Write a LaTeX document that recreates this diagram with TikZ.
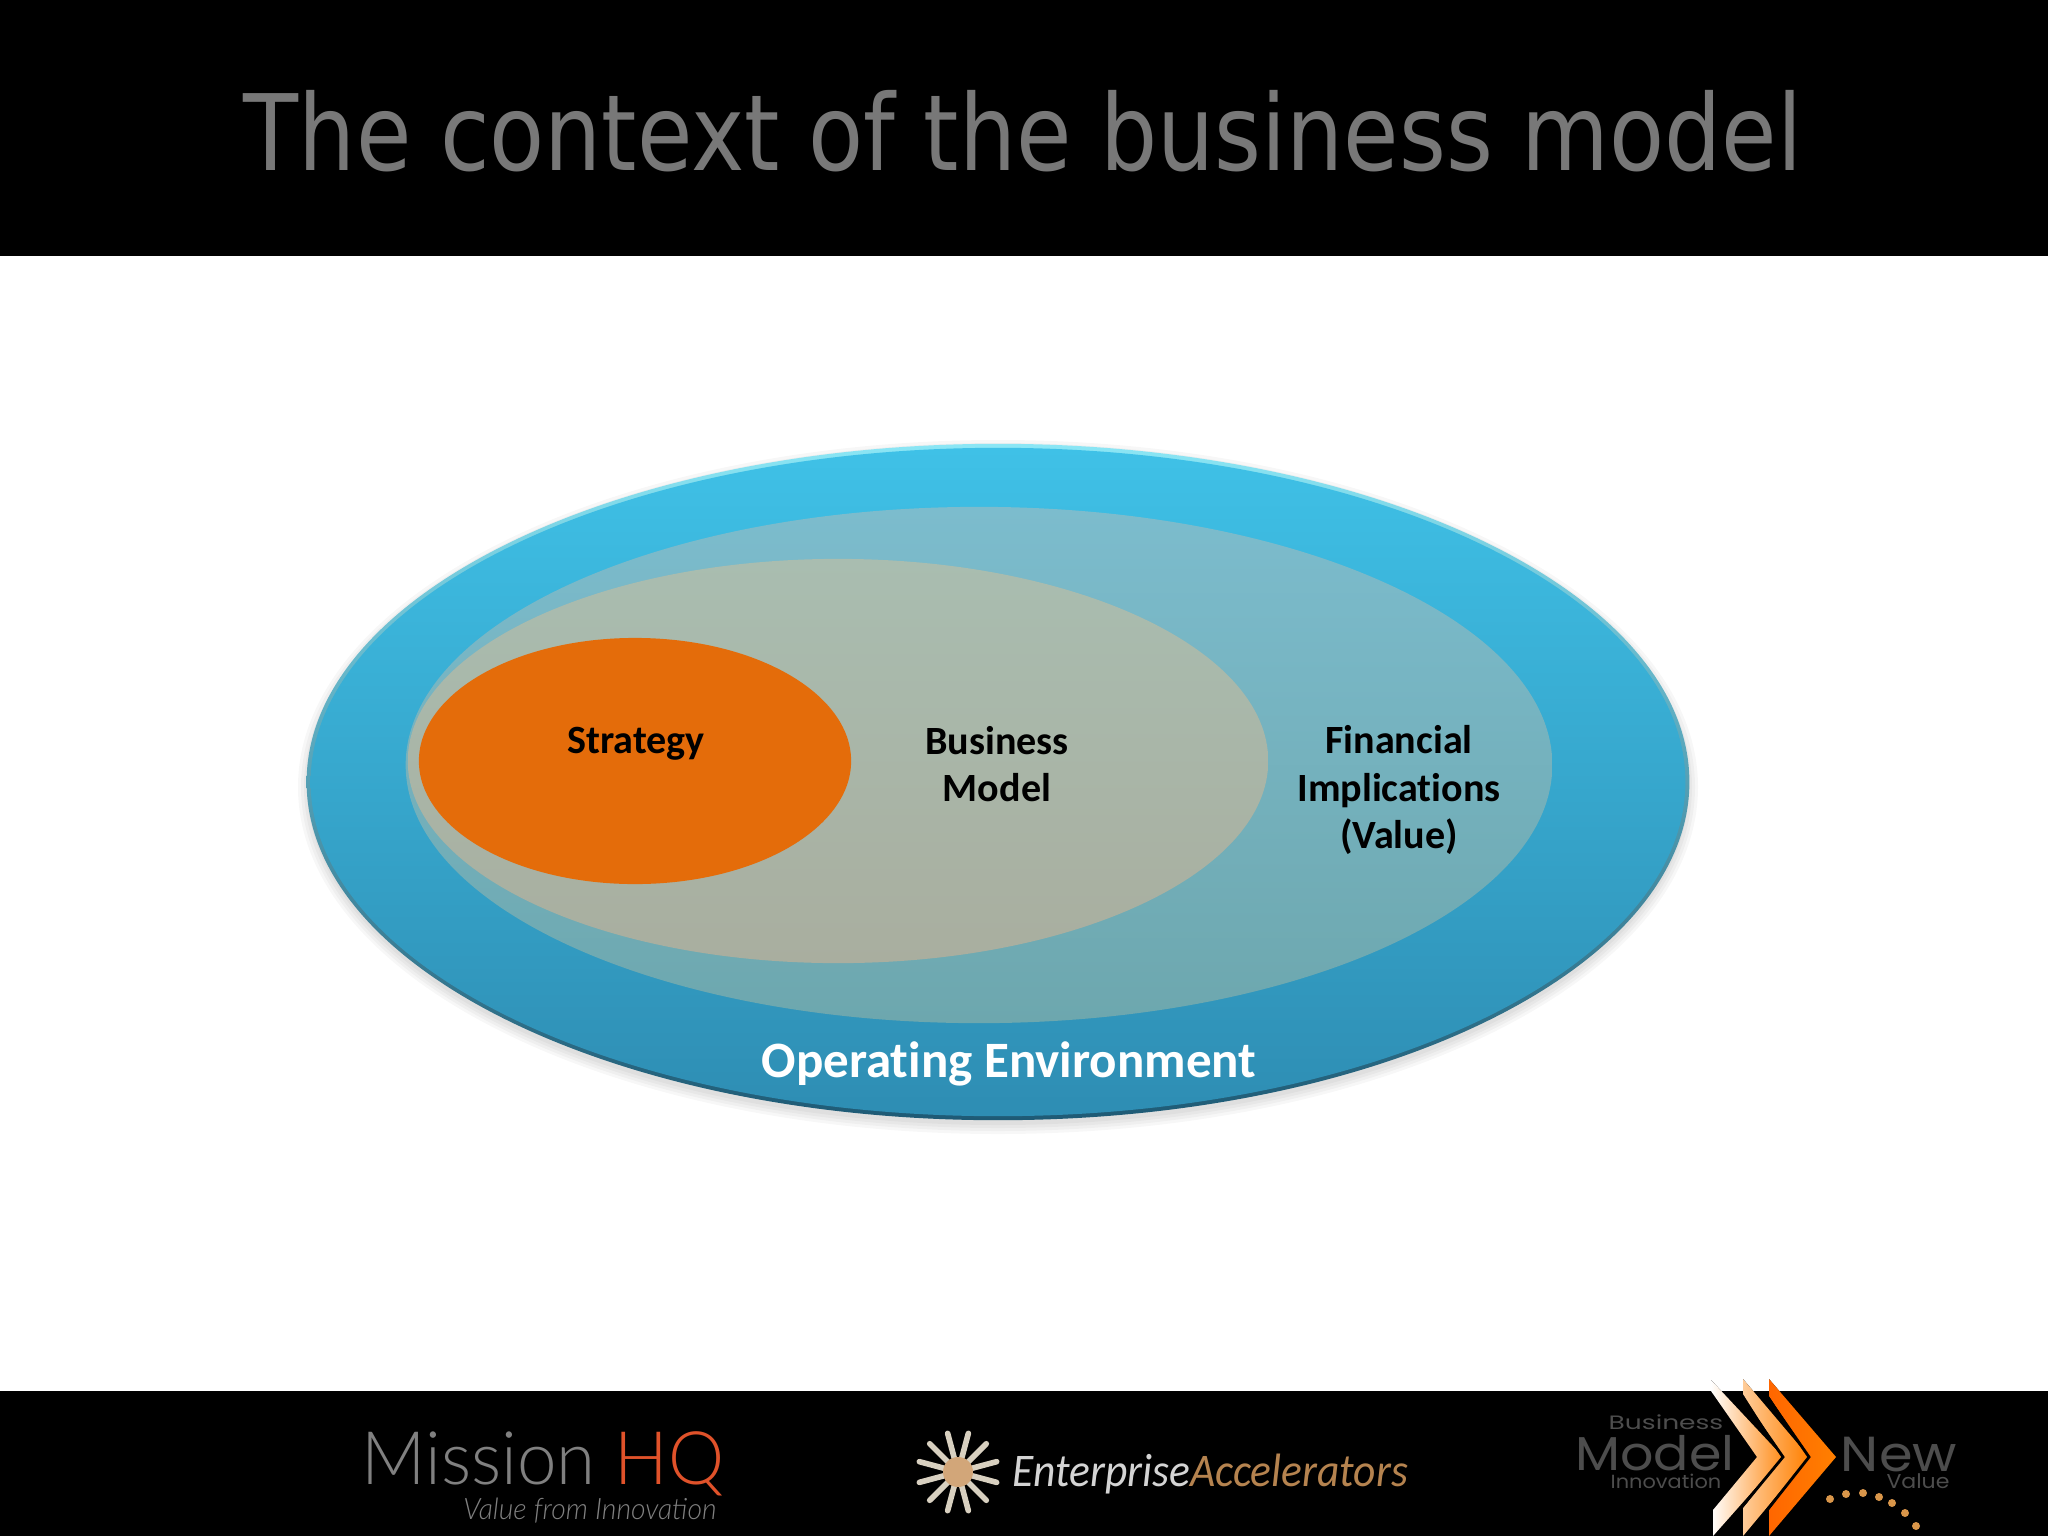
\documentclass[tikz,border=0pt]{standalone}
\usepackage{fontspec}
\usetikzlibrary{shapes.geometric}
\setmainfont[Ligatures=NoCommon]{Carlito}
\newfontfamily\titlefont[FakeStretch=0.854]{DejaVu Sans}
\newfontfamily\missionfont[FakeStretch=0.96]{Lato Light}
\newfontfamily\enterfont[FakeStretch=0.93,Ligatures=NoCommon]{Carlito}
\newfontfamily\modelfont[FakeStretch=1.1]{Poppins}
\newfontfamily\bizfont[FakeStretch=1.37]{Poppins}
\definecolor{bandblack}{HTML}{000000}
\definecolor{titlegray}{HTML}{787878}
\definecolor{opsky}{HTML}{3FC1E7}
\definecolor{opdeep}{HTML}{2E8DB3}
\definecolor{rimtop}{HTML}{8BE6F5}
\definecolor{rimbot}{HTML}{1E5A75}
\definecolor{fintop}{HTML}{7CBCCD}
\definecolor{finbot}{HTML}{6DA7AE}
\definecolor{bmtop}{HTML}{A9BDB0}
\definecolor{bmbot}{HTML}{A9AE9F}
\definecolor{stratorange}{HTML}{E46C0A}
\definecolor{hqred}{HTML}{E0522A}
\definecolor{logogray}{HTML}{4D4D4D}
\definecolor{entergray}{HTML}{D4D4D4}
\definecolor{accelbrown}{HTML}{B5834F}
\definecolor{dotorange}{HTML}{D9964A}
\definecolor{raycream}{HTML}{D8D0C0}
\tikzset{
  oval/.style={ellipse, inner sep=0pt},
  lbl/.style={font=\bfseries\fontsize{11.4}{13.6}\selectfont, align=center, text=black, inner sep=0pt},
  logotxt/.style={text=logogray, inner sep=0pt},
}
\begin{document}
\begin{tikzpicture}[x=0.01cm,y=-0.01cm]
  \useasboundingbox (0,0) rectangle (2048,1536);
  \fill[white] (0,0) rectangle (2048,1536);
  \fill[bandblack] (0,0) rectangle (2048,256);
  \fill[bandblack] (0,1391) rectangle (2048,1536);
  \node[text=titlegray, font=\titlefont\fontsize{30}{36}\selectfont, inner sep=0pt] (title) at (1023,131) {The context of the business model};
  % ovals
  \foreach \r in {0,3,6,9}
    \fill[black, opacity=0.03] (998,787) ellipse [x radius=691+\r, y radius=338+\r];
  \node[oval, top color=rimtop, bottom color=rimbot, minimum width=13.82cm, minimum height=6.76cm] (operatingrim) at (998,782) {};
  \node[oval, top color=opsky, bottom color=opdeep, minimum width=13.74cm, minimum height=6.68cm] (operating) at (998,782) {};
  \node[oval, top color=fintop, bottom color=finbot, minimum width=11.46cm, minimum height=5.16cm] (financial) at (979,765) {};
  \node[oval, top color=bmtop, bottom color=bmbot, minimum width=8.6cm, minimum height=4.04cm] (bizmodel) at (838,761) {};
  \node[oval, fill=stratorange, minimum width=4.32cm, minimum height=2.46cm] (strategy) at (635,761) {};
  % labels
  \node[lbl] (strategylbl) at (636,744) {Strategy};
  \node[lbl] (bizmodellbl) at (997,764) {Business\\Model};
  \node[lbl] (financiallbl) at (1399,790) {Financial\\Implications\\(Value)};
  \node[lbl, text=white, font=\bfseries\fontsize{14.5}{17}\selectfont] (operatinglbl) at (1009,1064) {Operating Environment};
  % logos
  \node[font=\missionfont\fontsize{21}{25}\selectfont, text=gray, inner sep=0pt] (mission) at (543,1464) {Mission \textcolor{hqred}{HQ}};
  \node[font=\missionfont\itshape\fontsize{8.4}{10}\selectfont, text=gray, inner sep=0pt] (missionsub) at (590,1511) {Value from Innovation};
  \foreach \a in {0,30,...,330}
    \draw[raycream, line width=1.6pt, line cap=round] (958,1472) -- +(\a+15:40);
  \fill[brown!70!white] (958,1472) circle (15);
  \node[font=\enterfont\itshape\fontsize{13.3}{16}\selectfont, text=entergray, inner sep=0pt, anchor=west] (enterprise) at (1012,1474) {Enterprise\textcolor{accelbrown}{Accelerators}};
  \node[font=\bizfont\fontsize{5.5}{7}\selectfont, logotxt] (bizword) at (1666,1422) {Business};
  \node[font=\modelfont\fontsize{13.5}{16}\selectfont, logotxt] (modelword) at (1655,1453) {Model};
  \node[font=\modelfont\fontsize{5.4}{7}\selectfont, logotxt] (innoword) at (1666,1481) {Innovation};
  \node[font=\modelfont\fontsize{14}{16}\selectfont, logotxt] (newword) at (1899,1455) {New};
  \node[font=\modelfont\fontsize{5.7}{7}\selectfont, logotxt] (valueword) at (1918,1481) {Value};
  \fill[left color=white, right color=orange!90!white] (1711,1380) -- (1783,1457) -- (1713,1536) -- (1713,1510) -- (1757,1457) -- (1711,1391) -- cycle;
  \fill[left color=orange!40!white, right color=orange] (1743,1379) -- (1809,1457) -- (1743,1536) -- (1743,1508) -- (1783,1457) -- (1743,1394) -- cycle;
  \fill[left color=orange!80!red, right color=orange] (1769,1379) -- (1836,1457) -- (1769,1536) -- (1769,1510) -- (1809,1457) -- (1769,1396) -- cycle;
  \draw[black, line width=0.8pt] (1738,1392) -- (1783,1457) -- (1736,1514);
  \draw[black, line width=0.8pt] (1764,1392) -- (1809,1457) -- (1764,1514);
  \foreach \x/\y in {1830/1499,1846/1494,1863/1493,1879/1497,1892/1503,1905/1513,1916/1526}
    \fill[dotorange] (\x,\y) circle (4);
\end{tikzpicture}
\end{document}
